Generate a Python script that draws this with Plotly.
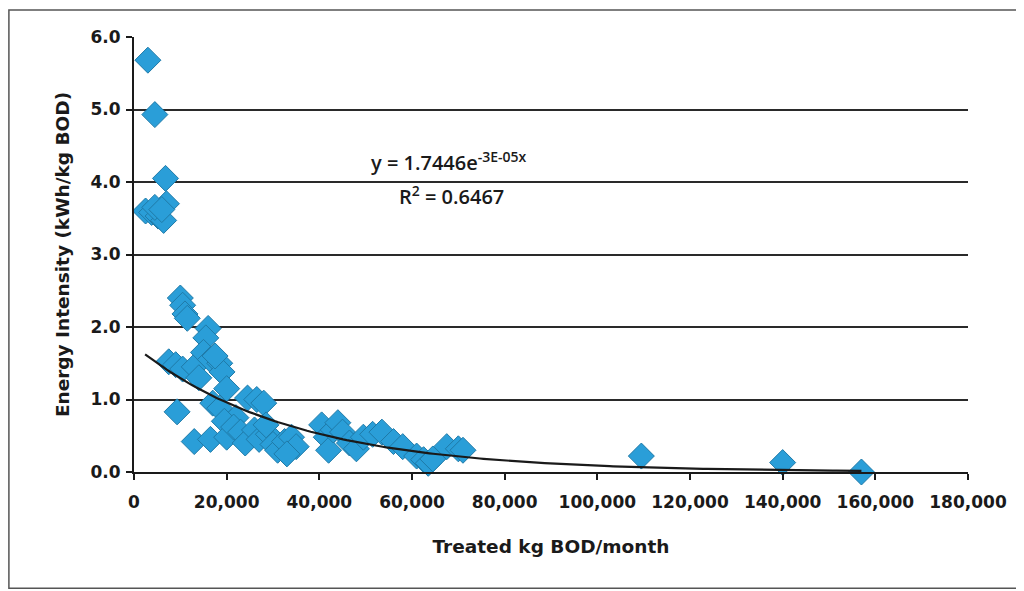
import numpy as np
import plotly.graph_objects as go

# Data (Treated kg BOD/month, Energy Intensity kWh/kg BOD)
bod_kg = [3000, 4500, 6800, 2500, 3800, 5200, 6400, 7000, 4500, 6000,
          10000, 10500, 11000, 11500, 16000, 15500,
          7500, 9000, 10500, 13000, 15000, 16500, 18500, 19000, 14000, 17500,
          9300, 17000, 18500, 20000, 24500, 26500, 28000, 22000, 19500,
          13000, 16500, 20000, 21500, 23000, 24000, 26000, 27000, 29000, 30000,
          31000, 32500, 34000, 35000, 33000, 28500,
          40500, 41500, 42000, 43000, 44000, 45000, 46500, 48000, 49500, 51500,
          53500, 56000, 58000, 61000, 62500, 63500, 64500, 67500, 70000, 71000,
          109500, 140000, 157000]
energy = [5.68, 4.93, 4.05, 3.60, 3.58, 3.53, 3.47, 3.70, 3.65, 3.62,
          2.40, 2.30, 2.18, 2.12, 1.98, 1.85,
          1.52, 1.48, 1.42, 1.45, 1.65, 1.55, 1.50, 1.38, 1.30, 1.60,
          0.83, 0.95, 0.88, 1.15, 1.02, 1.00, 0.95, 0.75, 0.70,
          0.42, 0.45, 0.48, 0.62, 0.55, 0.40, 0.58, 0.45, 0.52, 0.38,
          0.30, 0.42, 0.48, 0.35, 0.25, 0.65,
          0.65, 0.48, 0.30, 0.58, 0.68, 0.55, 0.40, 0.32, 0.48, 0.52,
          0.55, 0.42, 0.35, 0.22, 0.17, 0.12, 0.18, 0.35, 0.32, 0.30,
          0.22, 0.13, 0.0]

# Exponential trendline from the printed equation
trend_a = 1.7446
trend_b = -3e-05
x_ticks = [0, 20000, 40000, 60000, 80000, 100000, 120000, 140000, 160000, 180000]
y_ticks = [0.0, 1.0, 2.0, 3.0, 4.0, 5.0, 6.0]

tx = np.linspace(2400, max(bod_kg), 200)
ty = trend_a * np.exp(trend_b * tx)

fig = go.Figure()
fig.add_trace(go.Scatter(
    x=bod_kg, y=energy, mode="markers",
    marker=dict(symbol="diamond", size=20, color="#2a9ed8",
                line=dict(color="#1f7aa8", width=1)),
    cliponaxis=False, showlegend=False))
fig.add_trace(go.Scatter(
    x=tx, y=ty, mode="lines", line=dict(color="#1a1a1a", width=2.2),
    cliponaxis=False, showlegend=False))

tick_font = dict(family="DejaVu Sans", size=17, color="#1a1a1a", weight="bold")
title_font = dict(family="DejaVu Sans", size=18.5, color="#1a1a1a", weight="bold")
ann_font = dict(family="Open Sans", size=20, color="#1a1a1a", weight=600)

fig.update_layout(
    width=1024, height=591,
    paper_bgcolor="white", plot_bgcolor="white",
    margin=dict(l=126, r=64, t=29, b=127),
    xaxis=dict(range=[0, 180000], tickvals=x_ticks,
               ticktext=[f"{v:,}" for v in x_ticks],
               showgrid=False, zeroline=False,
               showline=True, linecolor="#1a1a1a", linewidth=2,
               ticks="outside", ticklen=6, tickcolor="#1a1a1a", tickwidth=2,
               tickfont=tick_font, ticklabelstandoff=8,
               title=dict(text="Treated kg BOD/month", font=title_font, standoff=29)),
    yaxis=dict(range=[0, 6], tickvals=y_ticks,
               ticktext=[f"{v:.1f}" for v in y_ticks],
               showgrid=True, gridcolor="#2a2a2a", gridwidth=2,
               zeroline=False,
               showline=True, linecolor="#1a1a1a", linewidth=2,
               ticks="outside", ticklen=6, tickcolor="#1a1a1a", tickwidth=2,
               tickfont=tick_font, ticklabelstandoff=2,
               title=dict(text="Energy Intensity (kWh/kg BOD)", font=title_font, standoff=16)),
    annotations=[
        dict(x=68000, y=4.28, xref="x", yref="y", showarrow=False,
             text="y = 1.7446e<sup>-3E-05x</sup>", font=ann_font),
        dict(x=68500, y=3.82, xref="x", yref="y", showarrow=False,
             text="R<sup>2</sup> = 0.6467", font=ann_font),
    ],
    shapes=[dict(type="rect", xref="paper", yref="paper",
                 x0=-0.150, x1=1.060, y0=-0.267, y1=1.062,
                 line=dict(color="#555555", width=1.5))],
)

fig.write_html("out.html")
